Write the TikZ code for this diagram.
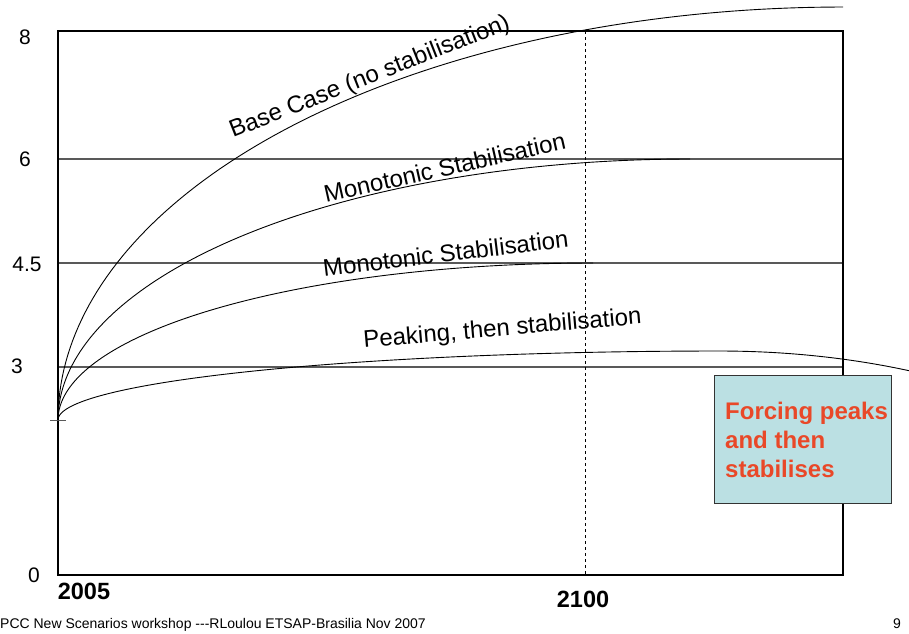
\documentclass[tikz,border=0pt]{standalone}
\usepackage{fontspec}
\setmainfont{Liberation Sans}
\definecolor{boxcyan}{RGB}{187,224,227}
\definecolor{forcingred}{RGB}{233,72,40}

\begin{document}
\begin{tikzpicture}[x=1pt, y=-1pt,
  frame/.style={line width=1.1pt, black},
  grid line/.style={line width=1.2pt, black!65},
  curve/.style={line width=0.9pt, black},
  curve label/.style={font=\fontsize{24}{28}\selectfont, inner sep=0pt, anchor=base west},
  axis label/.style={font=\fontsize{21}{24}\selectfont, inner sep=0pt},
  year label/.style={font=\fontsize{23.5}{26}\selectfont\bfseries, inner sep=0pt},
  note box/.style={draw=black!80, line width=1pt, fill=boxcyan, inner sep=0pt}]

\useasboundingbox (0,0) rectangle (909,633);

\coordinate (top-left) at (58,31);
\coordinate (bottom-right) at (843,575);
\coordinate (start) at (58,420);
\coordinate (y2100-top) at (585,31);
\coordinate (y2100-bottom) at (585,575);

% stabilisation levels
\foreach \lev in {159,263,367}
  \draw[grid line] (58,\lev) -- (843,\lev);
\draw[frame] (top-left) rectangle (bottom-right);
\draw[dashed, dash pattern=on 3pt off 3pt, line width=0.8pt] (y2100-top) -- (y2100-bottom);
\draw[grid line, line width=1pt] (50,420) -- (start) -- (66,420);

% scenarios
\draw[curve] plot[domain=0:90, samples=90] ({843-785*cos(\x)}, {420-413*sin(\x)});
\draw[curve] plot[domain=0:90, samples=90] ({690-632*cos(\x)}, {420-261*sin(\x)});
\draw[curve] plot[domain=0:90, samples=90] ({593-535*cos(\x)}, {420-157*sin(\x)});
\draw[curve] plot[domain=0:90, samples=90] ({720-662*cos(\x)}, {420-69*sin(\x)})
  -- plot[domain=0:22.2, samples=30] ({720+500*sin(\x)}, {351+265*(1-cos(\x))});

\node[curve label, rotate=21.5] (lbl-base) at (233,138) {Base Case (no stabilisation)};
\node[curve label, rotate=12.7] (lbl-mono6) at (326,203) {Monotonic Stabilisation};
\node[curve label, rotate=7] (lbl-mono45) at (324,277) {Monotonic Stabilisation};
\node[curve label, rotate=5] (lbl-peak) at (364,348) {Peaking, then stabilisation};

% axes
\node[axis label] (y8) at (25,37) {8};
\node[axis label] (y6) at (25,159) {6};
\node[axis label] (y45) at (27,264) {4.5};
\node[axis label] (y3) at (17,366) {3};
\node[axis label] (y0) at (34,575) {0};
\node[year label] (x2005) at (84,591) {2005};
\node[year label] (x2100) at (583,599) {2100};

\node[note box, minimum width=177pt, minimum height=128pt, anchor=north west] (forcing-box) at (714,375) {};
\node[font=\fontsize{24}{29}\selectfont\bfseries, text=forcingred, align=left, anchor=base west, inner sep=0pt]
  (forcing-text) at (725,477) {Forcing peaks\\and then\\stabilises};

\node[font=\fontsize{14}{17}\selectfont, anchor=base west, inner sep=0pt] (footer) at (0,628)
  {PCC New Scenarios workshop -{}-{}-RLoulou ETSAP-Brasilia Nov 2007};
\node[font=\fontsize{14}{17}\selectfont, anchor=base, inner sep=0pt] (page-no) at (897,628) {9};

\end{tikzpicture}
\end{document}
